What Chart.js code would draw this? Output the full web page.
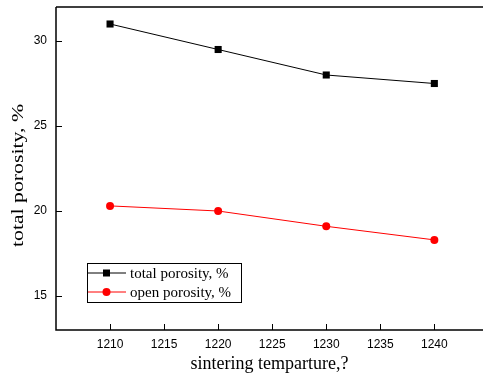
<!DOCTYPE html>
<html>
<head>
<meta charset="utf-8">
<script src="https://cdn.jsdelivr.net/npm/chart.js@4"></script>
<style>
  html, body { margin: 0; padding: 0; background: #fff; }
  #wrap { width: 483px; height: 381px; }
</style>
</head>
<body>
<div id="wrap"><canvas id="chart" width="483" height="381"></canvas></div>
<script>
const temps = [1210, 1220, 1230, 1240];
const totalPorosity = [31.0, 29.5, 28.0, 27.5];
const openPorosity = [20.3, 20.0, 19.1, 18.3];
const xTicks = [1210, 1215, 1220, 1225, 1230, 1235, 1240];
const yTicks = [15, 20, 25, 30];
const yTitle = 'total porosity, %';

// frame + inward ticks
const framePlugin = {
    id: 'frame',
    afterDatasetsDraw(chart) {
        const { ctx, chartArea: a, scales } = chart;
        ctx.save();
        ctx.strokeStyle = '#000';
        ctx.lineWidth = 1.5;
        ctx.beginPath();
        ctx.moveTo(a.left, a.top);
        ctx.lineTo(a.right, a.top);
        ctx.moveTo(a.left, a.top);
        ctx.lineTo(a.left, a.bottom);
        ctx.lineTo(a.right, a.bottom);
        ctx.stroke();
        ctx.lineWidth = 1;
        ctx.beginPath();
        scales.x.ticks.forEach(t => {
            const px = Math.round(scales.x.getPixelForValue(t.value)) + 0.5;
            ctx.moveTo(px, a.bottom);
            ctx.lineTo(px, a.bottom - 6);
        });
        scales.y.ticks.forEach(t => {
            const py = Math.round(scales.y.getPixelForValue(t.value)) + 0.5;
            ctx.moveTo(a.left, py);
            ctx.lineTo(a.left + 6, py);
        });
        ctx.stroke();

        // y axis title, stretched along its length like the original
        ctx.translate(19, (a.top + a.bottom) / 2 + 7);
        ctx.rotate(-Math.PI / 2);
        ctx.scale(1.36, 1);
        ctx.fillStyle = '#000';
        ctx.font = '16px "Liberation Serif"';
        ctx.textAlign = 'center';
        ctx.textBaseline = 'middle';
        ctx.fillText(yTitle, 0, 0);
        ctx.restore();
    }
};

// legend box inside the plot
const legendPlugin = {
    id: 'boxLegend',
    afterDraw(chart) {
        const ctx = chart.ctx;
        const x = 87, y = 263, w = 154, h = 39;
        ctx.save();
        ctx.fillStyle = '#fff';
        ctx.fillRect(x, y, w, h);
        ctx.strokeStyle = '#000';
        ctx.lineWidth = 1;
        ctx.strokeRect(x + 0.5, y + 0.5, w, h);
        chart.data.datasets.forEach((ds, i) => {
            const cy = y + 10 + i * 19;
            ctx.strokeStyle = ds.borderColor;
            ctx.lineWidth = 1;
            ctx.beginPath();
            ctx.moveTo(x + 1, cy);
            ctx.lineTo(x + 39, cy);
            ctx.stroke();
            ctx.fillStyle = ds.backgroundColor;
            if (ds.pointStyle === 'rect') {
                ctx.fillRect(x + 16, cy - 3.5, 7, 7);
            } else {
                ctx.beginPath();
                ctx.arc(x + 19.5, cy, 4, 0, Math.PI * 2);
                ctx.fill();
            }
            ctx.fillStyle = '#000';
            ctx.font = '15px "Liberation Serif"';
            ctx.textBaseline = 'middle';
            ctx.fillText(ds.label, x + 43, cy + 1);
        });
        ctx.restore();
    }
};

new Chart(document.getElementById('chart'), {
    type: 'line',
    data: {
        datasets: [
            {
                label: 'total porosity, %',
                data: temps.map((t, i) => ({ x: t, y: totalPorosity[i] })),
                borderColor: '#000',
                backgroundColor: '#000',
                borderWidth: 1,
                pointStyle: 'rect',
                pointRadius: 5,
                pointBorderWidth: 0
            },
            {
                label: 'open porosity, %',
                data: temps.map((t, i) => ({ x: t, y: openPorosity[i] })),
                borderColor: '#ff0000',
                backgroundColor: '#ff0000',
                borderWidth: 1,
                pointStyle: 'circle',
                pointRadius: 4,
                pointBorderWidth: 0
            }
        ]
    },
    options: {
        responsive: false,
        animation: false,
        layout: { autoPadding: false, padding: { top: 7, right: 0, bottom: 0, left: 0 } },
        plugins: { legend: { display: false }, tooltip: { enabled: false } },
        scales: {
            x: {
                type: 'linear',
                min: 1205,
                max: 1244.5,
                grid: { display: false, drawTicks: false },
                border: { display: false },
                afterBuildTicks: s => { s.ticks = xTicks.map(v => ({ value: v })); },
                afterFit: s => { s.height = 51; s.paddingLeft = 0; s.paddingRight = 0; },
                ticks: {
                    color: '#000',
                    font: { family: 'Liberation Sans', size: 12 },
                    padding: 7,
                    maxRotation: 0,
                    callback: v => String(v)
                },
                title: {
                    display: true,
                    text: 'sintering temparture,?',
                    color: '#000',
                    font: { family: 'Liberation Serif', size: 18 },
                    padding: { top: 0, bottom: 6 }
                }
            },
            y: {
                min: 13,
                max: 32,
                grid: { display: false, drawTicks: false },
                border: { display: false },
                afterBuildTicks: s => { s.ticks = yTicks.map(v => ({ value: v })); },
                afterFit: s => { s.width = 56; s.paddingTop = 0; s.paddingBottom = 0; },
                ticks: {
                    color: '#000',
                    font: { family: 'Liberation Sans', size: 12 },
                    padding: 9,
                    callback: v => String(v)
                },
                title: { display: false }
            }
        }
    },
    plugins: [framePlugin, legendPlugin]
});
</script>
</body>
</html>
